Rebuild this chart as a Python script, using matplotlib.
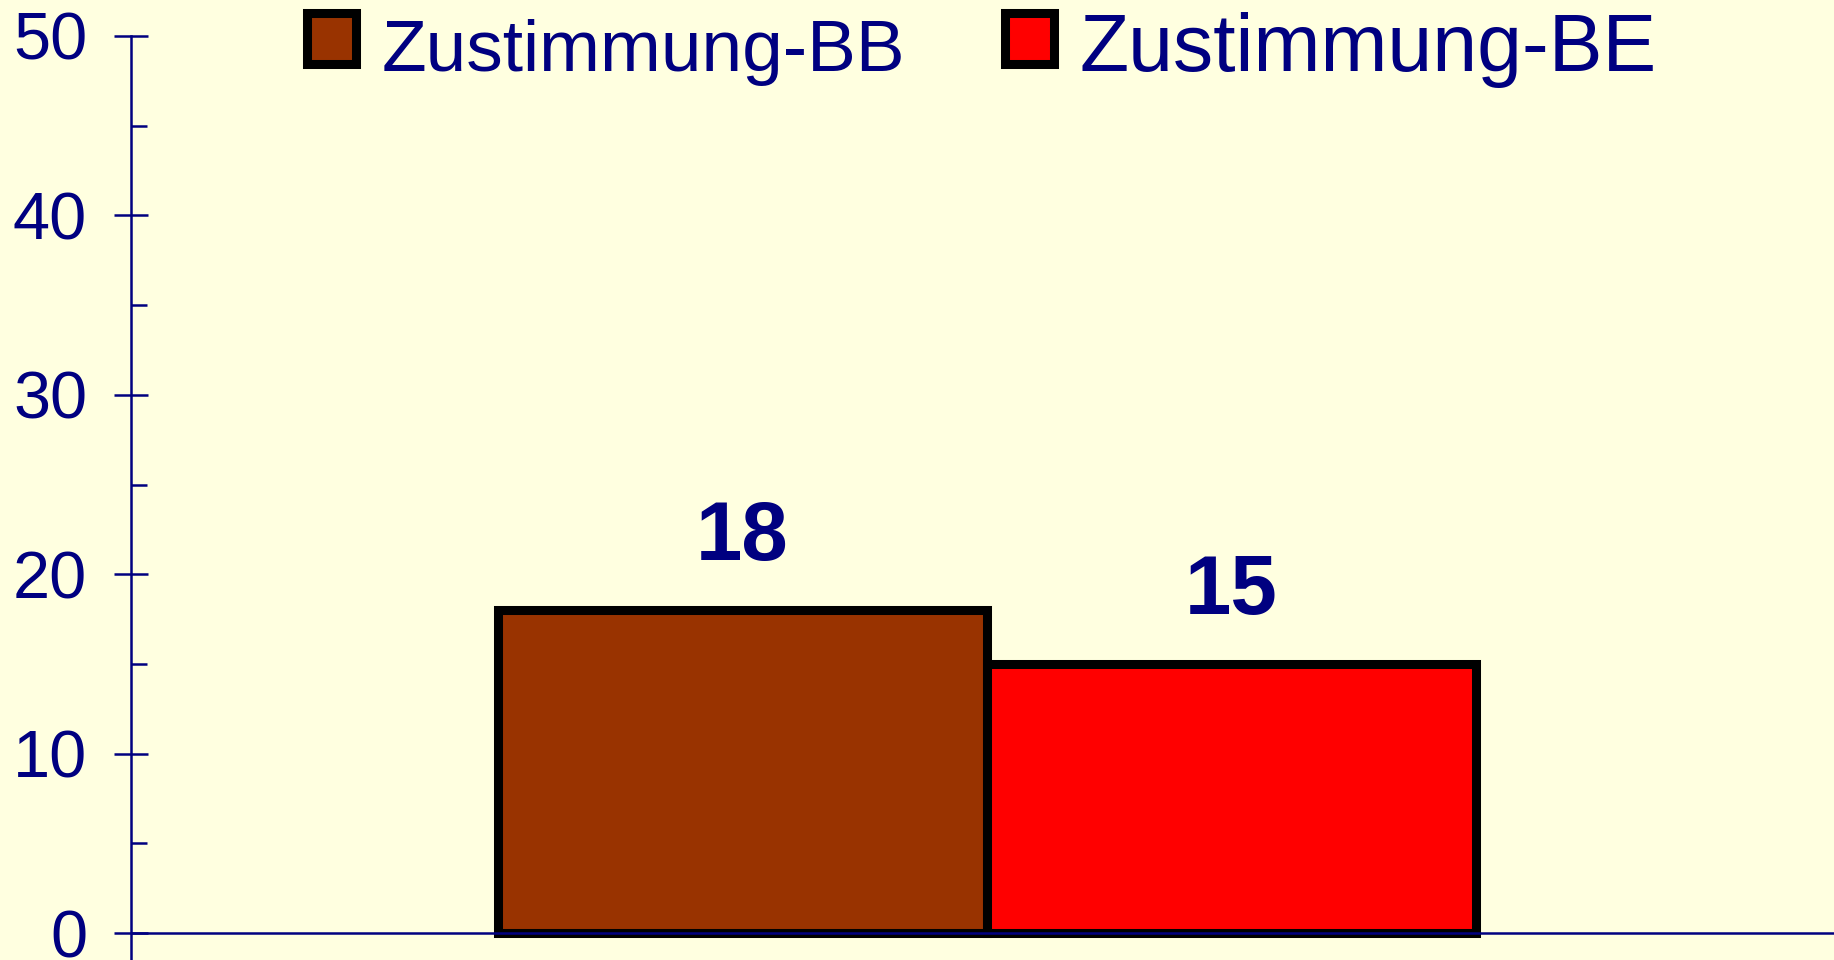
import matplotlib
matplotlib.use("Agg")
import matplotlib.pyplot as plt
from matplotlib.patches import Rectangle
from matplotlib.ticker import MultipleLocator

plt.rcParams['font.family'] = ['Liberation Sans', 'DejaVu Sans']

categories = [""]
series_names = ["Zustimmung-BB", "Zustimmung-BE"]
series_values = [[18], [15]]
series_colors = ["#993300", "#FF0000"]
yticks = [0, 10, 20, 30, 40, 50]

BG = "#FFFFE0"
NAVY = "#000080"
W, H = 1834, 960

fig = plt.figure(figsize=(W / 100, H / 100), dpi=100, facecolor=BG)
ax = fig.add_axes([131 / W, 0, 1 - 131 / W, 1 - 36 / H])
ax.set_facecolor(BG)

bw = 0.287
offsets = [-bw / 2, bw / 2]
for name, vals, col, off in zip(series_names, series_values, series_colors, offsets):
    xs = [i + off for i in range(len(categories))]
    bars = ax.bar(xs, vals, width=bw, color=col, edgecolor="black", linewidth=6.5, zorder=3)
    for b, v in zip(bars, vals):
        ax.annotate(f"{v}", (b.get_x() + b.get_width() / 2, v), xytext=(0, 36),
                    textcoords="offset points", ha="center", va="baseline",
                    fontsize=60, fontweight="bold", color=NAVY)

ax.set_xlim(-0.5025, 0.4975)
ax.set_ylim(-1.5, 50)
ax.axhline(0, color=NAVY, linewidth=1.8, zorder=4)
for s in ["top", "right", "bottom"]:
    ax.spines[s].set_visible(False)
ax.spines["left"].set_color(NAVY)
ax.spines["left"].set_linewidth(1.8)
ax.spines["left"].set_bounds(-1.5, 50)
ax.set_xticks([])
ax.set_yticks(yticks)
ax.yaxis.set_minor_locator(MultipleLocator(5))
ax.tick_params(axis="y", which="major", direction="inout", length=25, width=1.8,
               color=NAVY, labelcolor=NAVY, labelsize=48, pad=19)
ax.tick_params(axis="y", which="minor", direction="in", length=11.5, width=1.8, color=NAVY)

# legend drawn manually at top
leg_x = [302, 1000]
txt_x = [382, 1080]
leg_size = [52.6, 58]
for name, col, lx, tx, fs in zip(series_names, series_colors, leg_x, txt_x, leg_size):
    r = Rectangle(((lx + 4.5) / W, (H - 63.5) / H), 49 / W, 50 / H,
                  transform=fig.transFigure, facecolor=col, edgecolor="black",
                  linewidth=6.5, clip_on=False)
    fig.add_artist(r)
    fig.text(tx / W, (H - 71) / H, name, fontsize=fs, color=NAVY, ha="left", va="baseline")

fig.savefig("out.png", dpi=100, facecolor=BG)
